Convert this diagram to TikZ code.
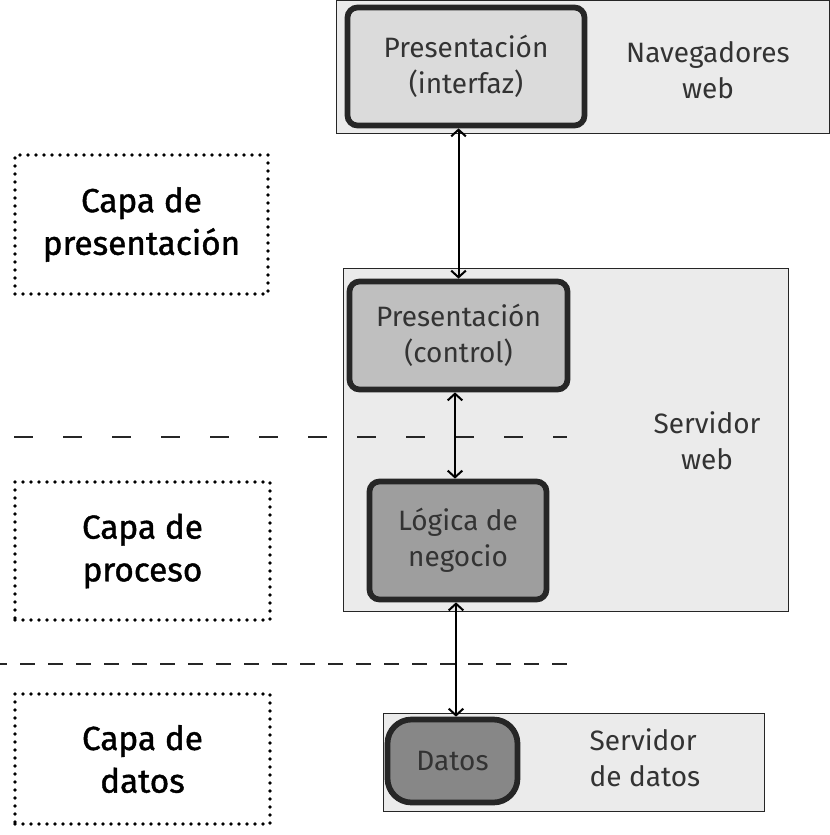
\documentclass[tikz,border=0pt]{standalone}
\usepackage{fontspec}
\setmainfont{Fira Sans}
\newfontfamily\capafont[UprightFeatures={FakeBold=1.2}]{Fira Sans}
\usetikzlibrary{arrows.meta, positioning}
\tikzset{>={Straight Barb[length=5pt, width=11pt]},
  servidor/.style={rectangle, draw=black!85, fill=black!8, line width=0.75pt, inner sep=0pt},
  modulo/.style={rectangle, rounded corners=7.5pt, draw=black!85, line width=4.3pt, text=black!80, align=center, inner sep=0pt, font=\fontsize{21}{27}\selectfont},
  capa/.style={rectangle, draw=black, line width=2.9pt, dash pattern=on 0pt off 6pt, line cap=round, align=center, font=\capafont\fontsize{25}{32}\selectfont},
  etiqueta/.style={text=black!80, align=center, font=\fontsize{21}{27}\selectfont},
  flecha/.style={<->, line width=1.5pt},
  separador/.style={line width=1.5pt, draw=black!85}}

\begin{document}
\begin{tikzpicture}[x=0.75pt, y=-0.75pt]
        \useasboundingbox (0,0) rectangle (829,835);
        % servidores
        \node[servidor, minimum width=369.75pt, minimum height=99.75pt] (navegadores) at (582.5,66.5) {};
        \node[servidor, minimum width=333.75pt, minimum height=257.25pt] (servidorweb) at (565.5,439.5) {};
        \node[servidor, minimum width=285.75pt, minimum height=73.5pt] (servidordatos) at (573.5,762) {};
        \node[etiqueta] (txtnavegadores) at (708,70) {Navegadores\\web};
        \node[etiqueta] (txtservidorweb) at (707,441) {Servidor\\web};
        \node[etiqueta, align=left, anchor=west] (txtservidordatos) at (585,758) {Servidor\\de datos};
        % modulos
        \node[modulo, fill=black!14, minimum width=177.75pt, minimum height=88.5pt] (interfaz) at (466,66.5) {Presentación\\(interfaz)};
        \node[modulo, fill=black!25, minimum width=163.5pt, minimum height=81pt] (control) at (458.5,335.5) {Presentación\\(control)};
        \node[modulo, fill=black!38, minimum width=132.75pt, minimum height=88.5pt] (negocio) at (458,540.5) {Lógica de\\negocio};
        \node[modulo, fill=black!47, rounded corners=18pt, minimum width=97.5pt, minimum height=62.25pt] (datos) at (452.5,761) {Datos};
        % capas
        \node[capa, minimum width=189.75pt, minimum height=104.25pt] (capapres) at (141.5,224.5) {Capa de\\presentación};
        \node[capa, minimum width=191.25pt, minimum height=103.5pt] (capaproc) at (142.5,551) {Capa de\\proceso};
        \node[capa, minimum width=191.25pt, minimum height=97.5pt] (capadatos) at (142.5,759) {Capa de\\datos};
        % separadores
        \coordinate (sep1a) at (14,437);
        \coordinate (sep1b) at (567,437);
        \coordinate (sep2a) at (0,664);
        \coordinate (sep2b) at (567,664);
        \draw[separador, dash pattern=on 14.25pt off 22.5pt] (sep1a) -- (sep1b);
        \draw[separador, dash pattern=on 11.25pt off 9.75pt, dash phase=6pt] (sep2a) -- (sep2b);
        % flechas
        \draw[flecha] (control.north) -- (control.north |- interfaz.south);
        \draw[flecha] (negocio.north -| 455,0) -- (control.south -| 455,0);
        \draw[flecha] (datos.north -| 456,0) -- (negocio.south -| 456,0);
    \end{tikzpicture}
\end{document}
